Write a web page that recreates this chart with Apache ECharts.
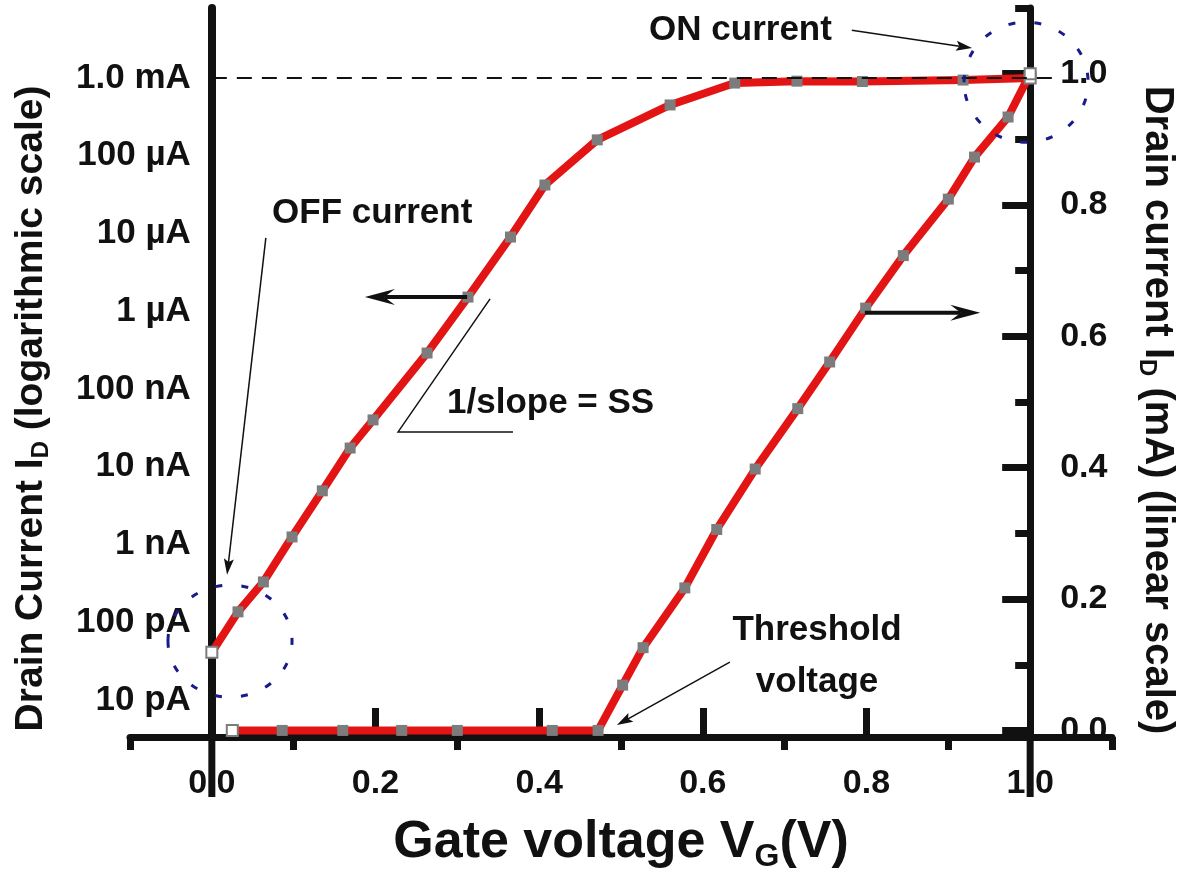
<!DOCTYPE html>
<html>
<head>
<meta charset="utf-8">
<title>Transfer characteristic I_D – V_G</title>
<script src="https://cdn.jsdelivr.net/npm/echarts@6/dist/echarts.min.js"></script>
<style>
  html, body { margin: 0; padding: 0; background: #ffffff; }
  #chart { width: 1188px; height: 880px; }
</style>
</head>
<body>
<div id="chart"></div>
<script>
// Gate voltage sweep (V) and drain current read on the logarithmic scale (A)
const gateVLog  = [0, 0.032, 0.063, 0.098, 0.135, 0.169, 0.197, 0.263, 0.313, 0.365, 0.407, 0.471, 0.560, 0.639, 0.715, 0.795, 0.918, 1.0];
const drainLogA = [4.1e-11, 1.36e-10, 3.3e-10, 1.25e-9, 4.9e-9, 1.74e-8, 4.0e-8, 2.9e-7, 1.52e-6, 9.0e-6, 4.2e-5, 1.6e-4, 4.5e-4, 8.6e-4, 9.1e-4, 9.0e-4, 9.4e-4, 1.0e-3];

// Gate voltage sweep (V) and drain current read on the linear scale (mA)
const gateVLin   = [0.025, 0.086, 0.160, 0.232, 0.300, 0.416, 0.472, 0.502, 0.527, 0.578, 0.617, 0.664, 0.716, 0.755, 0.799, 0.845, 0.900, 0.932, 0.973, 1.0];
const drainLinMA = [0, 0, 0, 0, 0, 0, 0, 0.069, 0.126, 0.217, 0.306, 0.398, 0.490, 0.561, 0.643, 0.723, 0.809, 0.873, 0.934, 1.0];

// ON-current reference level (A)
const onCurrentA = 1e-3;

// Tick values and labels
const xMajorTicks    = [0, 0.2, 0.4, 0.6, 0.8, 1.0];
const xMinorTicks    = [-0.1, 0.1, 0.3, 0.5, 0.7, 0.9, 1.1];
const logTickValues  = [1e-11, 1e-10, 1e-9, 1e-8, 1e-7, 1e-6, 1e-5, 1e-4, 1e-3];
const logTickLabels  = ['10 pA', '100 pA', '1 nA', '10 nA', '100 nA', '1 µA', '10 µA', '100 µA', '1.0 mA'];
const linMajorTicks  = [0, 0.2, 0.4, 0.6, 0.8, 1.0];
const linMinorTicks  = [0.1, 0.3, 0.5, 0.7, 0.9, 1.1];

// Axis extents
const X_MIN = -0.1, X_MAX = 1.1;
const LOG_MIN = Math.pow(10, -11.476), LOG_MAX = Math.pow(10, -2.1);
const LIN_MIN = -0.01, LIN_MAX = 1.1;

const FONT = '"Liberation Sans", Arial, Helvetica, sans-serif';
const INK = '#111111';
const RED = '#e31414';
const MARK = '#7c7c7c';

const GRID = { left: 130, right: 76, top: 8, bottom: 143 };
const gridW = 1188 - GRID.left - GRID.right;
// y axes sit at V = 0 and V = 1.0 rather than at the grid edges
const leftOffset  = -((0 - X_MIN) / (X_MAX - X_MIN)) * gridW;
const rightOffset = -((X_MAX - 1.0) / (X_MAX - X_MIN)) * gridW;

const whiteMarker = { color: '#ffffff', borderColor: MARK, borderWidth: 2 };
function buildData(xs, ys) {
  return xs.map((x, i) => {
    const d = { value: [x, ys[i]] };
    if (i === 0 || i === xs.length - 1) d.itemStyle = whiteMarker;
    return d;
  });
}

const chart = echarts.init(document.getElementById('chart'), null, { renderer: 'canvas' });

const subRich = { sub: { fontSize: 24, fontWeight: 'bold', fontFamily: FONT, color: INK, lineHeight: 12, verticalAlign: 'bottom' } };

chart.setOption({
  animation: false,
  backgroundColor: '#ffffff',
  grid: Object.assign({ containLabel: false, outerBoundsMode: 'none' }, GRID),
  xAxis: [
    {
      type: 'value', position: 'bottom', min: X_MIN, max: X_MAX,
      axisLine: { show: true, onZero: false, lineStyle: { color: INK, width: 7 } },
      axisTick: { show: true, inside: true, length: 29, customValues: xMajorTicks, lineStyle: { color: INK, width: 7 } },
      axisLabel: {
        show: true, customValues: xMajorTicks, margin: 30,
        formatter: v => v.toFixed(1),
        fontFamily: FONT, fontWeight: 'bold', fontSize: 34, color: INK
      },
      splitLine: { show: false },
      name: 'Gate voltage V{sub|G}(V)', nameLocation: 'middle', nameGap: 76,
      nameTextStyle: { fontFamily: FONT, fontWeight: 'bold', fontSize: 52, color: INK, lineHeight: 60,
        rich: { sub: { fontSize: 32, fontWeight: 'bold', fontFamily: FONT, color: INK, lineHeight: 16, verticalAlign: 'bottom' } } }
    },
    {
      type: 'value', position: 'bottom', min: X_MIN, max: X_MAX,
      axisLine: { show: false, onZero: false },
      axisTick: { show: true, inside: false, length: 13, customValues: xMinorTicks, lineStyle: { color: INK, width: 7 } },
      axisLabel: { show: false },
      splitLine: { show: false }
    }
  ],
  yAxis: [
    {
      type: 'log', logBase: 10, position: 'left', offset: leftOffset, min: LOG_MIN, max: LOG_MAX,
      axisLine: { show: true, onZero: false, lineStyle: { color: INK, width: 8 } },
      axisTick: { show: false },
      axisLabel: {
        show: true, customValues: logTickValues, margin: 21,
        formatter: v => logTickLabels[logTickValues.findIndex(t => Math.abs(Math.log10(t) - Math.log10(v)) < 0.01)],
        fontFamily: FONT, fontWeight: 'bold', fontSize: 35, color: INK
      },
      splitLine: { show: false },
      name: 'Drain Current I{sub|D} (logarithmic scale)', nameLocation: 'middle', nameGap: 158,
      nameTextStyle: { fontFamily: FONT, fontWeight: 'bold', fontSize: 39, color: INK, lineHeight: 46,
        padding: [0, 72, 0, 0], rich: subRich }
    },
    {
      type: 'value', position: 'right', offset: rightOffset, min: LIN_MIN, max: LIN_MAX,
      axisLine: { show: true, onZero: false, lineStyle: { color: INK, width: 7 } },
      axisTick: { show: true, inside: true, length: 28, customValues: linMajorTicks, lineStyle: { color: INK, width: 7 } },
      axisLabel: {
        show: true, customValues: linMajorTicks, margin: 30,
        formatter: v => v.toFixed(1),
        fontFamily: FONT, fontWeight: 'bold', fontSize: 34, color: INK
      },
      splitLine: { show: false },
      name: 'Drain current I{sub|D} (mA) (linear scale)', nameLocation: 'middle', nameGap: 104, nameRotate: -90,
      nameTextStyle: { fontFamily: FONT, fontWeight: 'bold', fontSize: 40, color: INK, lineHeight: 46,
        padding: [0, 0, 0, 75], rich: subRich }
    },
    {
      type: 'value', position: 'right', offset: rightOffset, min: LIN_MIN, max: LIN_MAX,
      axisLine: { show: false, onZero: false },
      axisTick: { show: true, inside: true, length: 15, customValues: linMinorTicks, lineStyle: { color: INK, width: 7 } },
      axisLabel: { show: false },
      splitLine: { show: false }
    }
  ],
  series: [
    {
      name: 'I_D (log)', type: 'line', xAxisIndex: 0, yAxisIndex: 0,
      data: buildData(gateVLog, drainLogA),
      lineStyle: { color: RED, width: 8, cap: 'round', join: 'round' },
      symbol: 'rect', symbolSize: 11, showAllSymbol: true,
      itemStyle: { color: MARK },
      z: 4, silent: true,
      markLine: {
        silent: true, symbol: ['none', 'none'], label: { show: false },
        lineStyle: { color: INK, width: 2, type: [15, 10] },
        data: [[{ coord: [0, onCurrentA] }, { coord: [1.03, onCurrentA] }]]
      }
    },
    {
      name: 'I_D (linear)', type: 'line', xAxisIndex: 0, yAxisIndex: 1,
      data: buildData(gateVLin, drainLinMA),
      lineStyle: { color: RED, width: 8, cap: 'round', join: 'round' },
      symbol: 'rect', symbolSize: 11, showAllSymbol: true,
      itemStyle: { color: MARK },
      z: 4, silent: true
    }
  ]
});

// ---- annotations, positioned in (V, mA) coordinates of the linear axis ----
function P(x, y) { return chart.convertToPixel({ xAxisIndex: 0, yAxisIndex: 1 }, [x, y]); }

function arrow(tail, tip, len, half, notch, width) {
  const dx = tip[0] - tail[0], dy = tip[1] - tail[1];
  const l = Math.hypot(dx, dy), ux = dx / l, uy = dy / l, nx = -uy, ny = ux;
  const bx = tip[0] - ux * len, by = tip[1] - uy * len;
  const nk = [tip[0] - ux * len * notch, tip[1] - uy * len * notch];
  return [
    { type: 'line', z: 20, silent: true, shape: { x1: tail[0], y1: tail[1], x2: nk[0], y2: nk[1] },
      style: { stroke: INK, lineWidth: width } },
    { type: 'polygon', z: 20, silent: true,
      shape: { points: [tip, [bx + nx * half, by + ny * half], nk, [bx - nx * half, by - ny * half]] },
      style: { fill: INK } }
  ];
}

function label(text, pos, size, align) {
  return { type: 'text', z: 20, silent: true, x: pos[0], y: pos[1],
    style: { text: text, font: 'bold ' + size + 'px ' + FONT, fill: INK,
      align: align || 'center', verticalAlign: 'middle', lineHeight: 52 } };
}

function dashedEllipse(c, rxV, ryMA) {
  const o = P(c[0], c[1]);
  const rx = Math.abs(P(c[0] + rxV, c[1])[0] - o[0]);
  const ry = Math.abs(P(c[0], c[1] + ryMA)[1] - o[1]);
  return { type: 'ellipse', z: 18, silent: true, shape: { cx: o[0], cy: o[1], rx: rx, ry: ry },
    style: { fill: 'none', stroke: '#1a1a8c', lineWidth: 3, lineDash: [7, 19] } };
}

const x0 = P(0, LIN_MIN), x1 = P(1.0, LIN_MIN);
const axisDrop = 60;

const graphics = [].concat(
  // axis lines carried down past the V axis
  [
    { type: 'line', z: 15, silent: true, shape: { x1: x0[0], y1: x0[1], x2: x0[0], y2: x0[1] + axisDrop }, style: { stroke: INK, lineWidth: 7 } },
    { type: 'line', z: 15, silent: true, shape: { x1: x1[0], y1: x1[1], x2: x1[0], y2: x1[1] + axisDrop }, style: { stroke: INK, lineWidth: 7 } }
  ],
  // OFF current
  [label('OFF current', P(0.196, 0.788), 35)],
  arrow(P(0.066, 0.750), P(0.0186, 0.237), 16, 5, 0.8, 1.5),
  [dashedEllipse([0.0222, 0.136], 0.0758, 0.0853)],
  // ON current
  [label('ON current', P(0.646, 1.066), 35)],
  arrow(P(0.782, 1.066), P(0.929, 1.039), 16, 5, 0.8, 1.5),
  [dashedEllipse([0.995, 0.987], 0.0758, 0.0914)],
  // axis-pointer arrows
  arrow(P(0.312, 0.660), P(0.187, 0.660), 30, 8, 0.65, 4),
  arrow(P(0.798, 0.636), P(0.939, 0.636), 30, 8, 0.65, 4),
  // subthreshold slope marker
  [
    { type: 'polyline', z: 20, silent: true,
      shape: { points: [P(0.340, 0.657), P(0.2276, 0.4545), P(0.368, 0.4545)] },
      style: { stroke: INK, lineWidth: 1.5, fill: 'none' } },
    label('1/slope = SS', P(0.2874, 0.498), 35, 'left')
  ],
  // threshold voltage
  [label('Threshold\nvoltage', P(0.7396, 0.113), 35)],
  arrow(P(0.633, 0.104), P(0.495, 0.0082), 16, 5, 0.8, 1.5)
);

chart.setOption({ graphic: graphics });
</script>
</body>
</html>
